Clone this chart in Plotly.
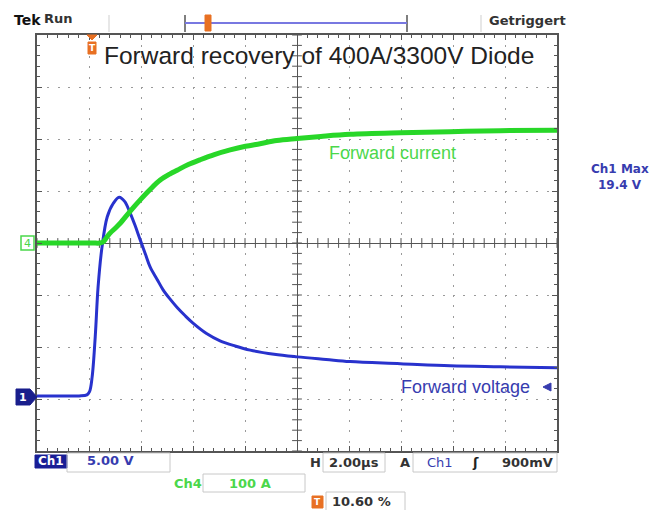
import numpy as np
import plotly.graph_objects as go

# Ch1: forward voltage (V) vs time (µs, relative to trigger)
ch1_time = [-2.12, -1.5, -1.0, -0.5, -0.2, -0.1, 0.0, 0.12, 0.23, 0.38, 0.58, 0.81,
            1.04, 1.25, 1.46, 1.65, 1.85, 2.04, 2.23, 2.5, 2.73, 3.0, 3.27, 3.58,
            3.88, 4.4, 4.92, 5.5, 6.08, 7.0, 7.88, 9.0, 9.92, 11.85, 13.77, 15.7,
            17.88]
ch1_volt = [0.3, 0.3, 0.3, 0.3, 0.4, 0.7, 2.1, 6.0, 10.8, 14.6, 17.5, 18.8,
            19.4, 19.0, 17.9, 16.7, 15.3, 14.0, 12.7, 11.5, 10.5, 9.6, 8.8, 8.0,
            7.3, 6.3, 5.6, 5.1, 4.7, 4.3, 4.05, 3.8, 3.6, 3.4, 3.2, 3.1,
            3.0]
# Ch4: forward current (A) vs time (µs)
ch4_time = [-2.12, -1.0, 0.0, 0.3, 0.42, 0.55, 0.69, 0.88, 1.08, 1.46, 1.85, 2.23,
            2.62, 3.0, 3.27, 3.7, 4.15, 4.7, 5.31, 5.9, 6.46, 7.1, 7.88, 8.8,
            9.92, 11.85, 13.77, 15.7, 17.88]
ch4_amp = [0, 0, 0, 0, 2, 10, 19, 28, 38, 61, 83, 103,
           121, 133, 140, 151, 160, 170, 179, 186, 191, 197, 201, 205,
           209, 212, 214, 216, 217]

# scope settings
V_PER_DIV = 5.0          # Ch1
A_PER_DIV = 100.0        # Ch4
US_PER_DIV = 2.0         # horizontal
TRIG_POS = 0.106         # 10.60 %
CH1_OFFSET_DIV = -3      # Ch1 ground marker, divisions from centre
CH4_OFFSET_DIV = 0       # Ch4 ground marker
H_DIVS, V_DIVS = 10, 8

# ---------------- layout geometry (pixels) ----------------
W, H = 664, 510
L, R, T, B = 37, 557, 35, 451


def px(x):
    return (x - L) / (R - L)


def py(y):
    return (B - y) / (B - T)


BLUE = "rgb(40,50,205)"
BLUE_TXT = "rgb(55,60,175)"
GREEN = "rgb(40,215,40)"
GREEN_TXT = "rgb(75,215,75)"
ORANGE = "rgb(232,112,35)"
GRAY_TXT = "#333333"
GRID = "#9a9a9a"
AXC = "#555555"

fig = go.Figure()

# centre-line tick marks of the graticule
cx = np.arange(-H_DIVS / 2, H_DIVS / 2 + 1e-9, 0.2)
cy = np.arange(-V_DIVS / 2, V_DIVS / 2 + 1e-9, 0.2)
fig.add_trace(go.Scatter(x=cx, y=np.zeros_like(cx), mode="markers",
                         marker=dict(symbol="line-ns", size=7,
                                     line=dict(width=1, color=AXC)),
                         hoverinfo="skip", showlegend=False))
fig.add_trace(go.Scatter(x=np.zeros_like(cy), y=cy, mode="markers",
                         marker=dict(symbol="line-ew", size=7,
                                     line=dict(width=1, color=AXC)),
                         hoverinfo="skip", showlegend=False))

# waveforms
fig.add_trace(go.Scatter(x=ch4_time, y=ch4_amp, xaxis="x2", yaxis="y3",
                         mode="lines", line=dict(color=GREEN, width=5, shape="spline",
                                                 smoothing=1.0, simplify=False),
                         name="Ch4", showlegend=False))
fig.add_trace(go.Scatter(x=ch1_time, y=ch1_volt, xaxis="x2", yaxis="y2",
                         mode="lines", line=dict(color=BLUE, width=3, shape="spline",
                                                 smoothing=1.0, simplify=False),
                         name="Ch1", showlegend=False))

t0 = -TRIG_POS * H_DIVS * US_PER_DIV
t1 = t0 + H_DIVS * US_PER_DIV
v0 = (-V_DIVS / 2 - CH1_OFFSET_DIV) * V_PER_DIV
v1 = (V_DIVS / 2 - CH1_OFFSET_DIV) * V_PER_DIV
a0 = (-V_DIVS / 2 - CH4_OFFSET_DIV) * A_PER_DIV
a1 = (V_DIVS / 2 - CH4_OFFSET_DIV) * A_PER_DIV

grat = dict(showgrid=True, gridcolor=GRID, griddash="2px,8.4px", gridwidth=1,
            dtick=1, tick0=0, zeroline=True, zerolinecolor=AXC, zerolinewidth=1,
            showline=True, linecolor=AXC, linewidth=2, mirror="allticks",
            ticks="inside", ticklen=5, tickcolor=AXC, tickwidth=1,
            minor=dict(dtick=0.2, ticks="inside", ticklen=3, tickcolor=AXC,
                       showgrid=False),
            showticklabels=False, fixedrange=True)

fig.update_layout(
    width=W, height=H,
    margin=dict(l=L, r=W - R, t=T, b=H - B, pad=0),
    paper_bgcolor="white", plot_bgcolor="white",
    xaxis=dict(range=[-H_DIVS / 2, H_DIVS / 2], **grat),
    yaxis=dict(range=[-V_DIVS / 2, V_DIVS / 2], **grat),
    xaxis2=dict(range=[t0, t1], overlaying="x", anchor="y2", visible=False,
                fixedrange=True),
    yaxis2=dict(range=[v0, v1], overlaying="y", anchor="x2", visible=False,
                fixedrange=True),
    yaxis3=dict(range=[a0, a1], overlaying="y", anchor="x2", visible=False,
                fixedrange=True),
    showlegend=False,
)

shapes = []
ann = []


def text(x, y, s, color=GRAY_TXT, size=14, bold=True, anchor="left",
         family="DejaVu Sans"):
    ann.append(dict(x=px(x), y=py(y), xref="paper", yref="paper", text=s,
                    showarrow=False, xanchor=anchor, yanchor="middle",
                    font=dict(family=family, size=size, color=color,
                              weight="bold" if bold else "normal")))


def rect(x0, y0, x1, y1, line="#c8c8c8", fill=None, lw=1):
    shapes.append(dict(type="rect", xref="paper", yref="paper",
                       x0=px(x0), x1=px(x1), y0=py(y1), y1=py(y0),
                       line=dict(color=line, width=lw),
                       fillcolor=fill if fill else "rgba(0,0,0,0)"))


def seg(x0, y0, x1, y1, color, lw=1):
    shapes.append(dict(type="line", xref="paper", yref="paper",
                       x0=px(x0), x1=px(x1), y0=py(y0), y1=py(y1),
                       line=dict(color=color, width=lw)))


def poly(pts, fill, line=None):
    d = "M " + " L ".join(f"{px(a):.5f},{py(b):.5f}" for a, b in pts) + " Z"
    shapes.append(dict(type="path", xref="paper", yref="paper", path=d,
                       fillcolor=fill, line=dict(color=line or fill, width=1)))


# ---- top status bar ----
text(12, 20, "Tek", color="#111111", size=14)
text(42, 19, "Run", color="#333333", size=13)
seg(109, 15, 109, 32, "#cfcfcf")
seg(481, 15, 481, 32, "#cfcfcf")
seg(185, 15, 185, 32, "#555555", 1.5)
seg(407, 15, 407, 32, "#555555", 1.5)
seg(185, 23, 407, 23, "rgb(120,120,225)", 2)
rect(205, 15, 211, 31, line=ORANGE, fill=ORANGE)
text(487, 20, "Getriggert", color="#333333", size=13)

# trigger position markers
poly([(87, 35), (97, 35), (92, 40)], ORANGE)
rect(88, 42, 96, 54, line=ORANGE, fill=ORANGE)
text(92, 48, "T", color="white", size=9, anchor="center")

# title
text(319, 55, "Forward recovery of 400A/3300V Diode", color="#222222",
     size=24.5, bold=False, anchor="center", family="Liberation Sans")

# trace labels
text(327, 153, "Forward current", color=GREEN_TXT, size=18, bold=False,
     family="Liberation Sans")
text(399, 387, "Forward voltage", color=BLUE_TXT, size=18, bold=False,
     family="Liberation Sans")
poly([(543, 387), (551, 383), (551, 391)], BLUE_TXT)

# right readout
text(620, 169, "Ch1 Max", color=BLUE_TXT, size=12, anchor="center")
text(620, 185, "19.4 V", color=BLUE_TXT, size=12, anchor="center")

# channel ground markers
rect(21, 236, 34, 250, line=GREEN_TXT, lw=1.5)
text(27.5, 243, "4", color=GREEN_TXT, size=11, bold=False, anchor="center")
poly([(16, 389), (30, 389), (37, 397), (30, 405), (16, 405)], "rgb(25,30,140)")
text(23, 397, "1", color="white", size=11, anchor="center")

# ---- bottom status bar ----
rect(35, 455, 67, 468, line="rgb(25,30,150)", fill="rgb(25,30,150)")
text(51, 461, "Ch1", color="white", size=12, anchor="center")
rect(67, 453, 170, 472)
text(85, 461, "5.00 V", color=BLUE_TXT, size=13)
text(315, 462, "H", color=GRAY_TXT, size=13, anchor="center")
rect(323, 453, 385, 472)
text(327, 462, "2.00µs", color=GRAY_TXT, size=13)
text(405, 462, "A", color=GRAY_TXT, size=13, anchor="center")
rect(413, 453, 557, 472)
text(425, 462, "Ch1", color=BLUE_TXT, size=13, bold=False)
text(475, 462, "ʃ", color="#222222", size=13, anchor="center")
text(555, 462, "900mV", color=GRAY_TXT, size=13, anchor="right")
text(172, 483, "Ch4", color=GREEN_TXT, size=13)
rect(203, 474, 305, 492)
text(227, 483, "100 A", color=GREEN_TXT, size=13)
rect(312, 496, 323, 508, line=ORANGE, fill=ORANGE)
text(317.5, 502, "T", color="white", size=9, anchor="center")
rect(326, 492, 405, 511)
text(330, 501, "10.60 %", color=GRAY_TXT, size=13)

fig.update_layout(shapes=shapes, annotations=ann)
fig.write_html("out.html")
